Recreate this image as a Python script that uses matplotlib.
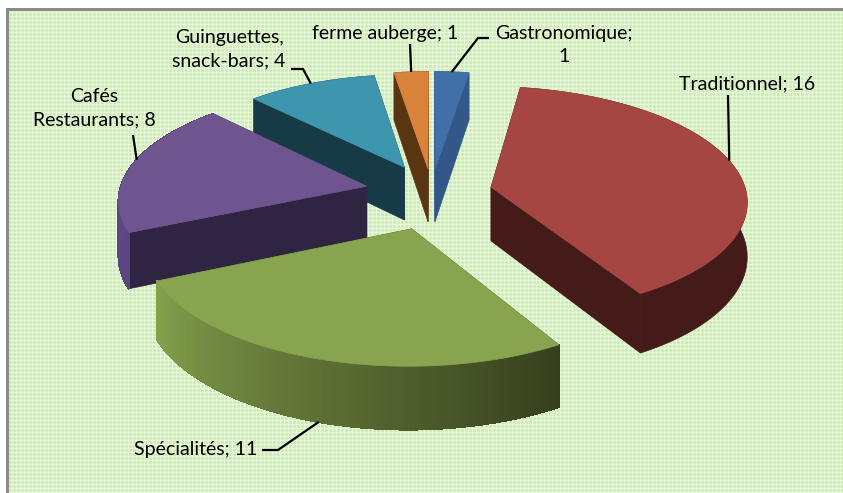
import numpy as np
import matplotlib
matplotlib.use("Agg")
import matplotlib.pyplot as plt
from matplotlib.patches import Polygon
from matplotlib.colors import to_rgb

categories = ["Gastronomique", "Traditionnel", "Spécialités", "Cafés Restaurants", "Guinguettes, snack-bars", "ferme auberge"]
values = [1, 16, 11, 8, 4, 1]

top_colors = ["#4170a8", "#a64643", "#88a44e", "#6f5590", "#3d96ae", "#d9833a"]
# side colour at the start and end of the arc, going clockwise
side_start = ["#34578a", "#451b19", "#363f1d", "#5a4680", "#163a46", "#5a3512"]
side_end = ["#34578a", "#451b19", "#84a04c", "#5f4a86", "#163a46", "#5a3512"]
radial_colors = ["#34578a", "#451b19", "#39461f", "#2f2542", "#163a46", "#5a3512"]
explode = [0.21, 0.225, 0.33, 0.27, 0.25, 0.21]
radius = [1.0, 1.0, 1.0, 0.97, 0.95, 1.0]
shift_x = [-1, 3, 6, 2, 0, 0]

# projection of the tilted disc
cx, cy = 432, 192
A, B = 255, 113
k, depth = 0.112, 54


def project(x, y, z=0.0, dx=0):
    x, y = np.asarray(x, float), np.asarray(y, float)
    w = 1 + k * y
    return np.column_stack([cx + dx + A * x / w, cy - B * y / w + depth * z / w])


fig = plt.figure(figsize=(8.43, 4.93), dpi=100)
ax = fig.add_axes([0, 0, 1, 1])
ax.set_xlim(0, 843)
ax.set_ylim(493, 0)
ax.axis("off")

# plaid background tile
tile = np.ones((8, 8, 3)) * np.array(to_rgb("#d2eeb9"))
tile[::4, :] = to_rgb("#e6f6d9")
tile[:, ::4] = to_rgb("#e6f6d9")
tile[::8, ::8] = to_rgb("#f6fcf0")
tile[2::4, 2::4] = to_rgb("#c2e5a5")
bg = np.tile(tile, (62, 106, 1))[:493, :843]
bg[:8, :] = 1
bg[:, :6] = 1
bg[8:11, 6:] = to_rgb("#8b8b8b")
bg[8:, 6:9] = to_rgb("#8b8b8b")
ax.imshow(bg, extent=(0, 843, 493, 0), interpolation="nearest", aspect="auto", zorder=0)

total = sum(values)
edges = np.concatenate([[0], np.cumsum(values)]) * 360.0 / total


def slice_geom(i):
    a0, a1 = np.radians(edges[i]), np.radians(edges[i + 1])
    m = (a0 + a1) / 2
    ox, oy = explode[i] * np.sin(m), explode[i] * np.cos(m)
    t = np.linspace(a0, a1, max(int(np.degrees(a1 - a0)), 6))
    return ox, oy, t


z = 1
for i in [0, 5, 4, 1, 3, 2]:
    ox, oy, t = slice_geom(i)
    dx = shift_x[i]
    ax_pts = ox + radius[i] * np.sin(t)
    ay_pts = oy + radius[i] * np.cos(t)
    # radial faces
    for j in [0, -1]:
        quad = np.vstack([project([ox], [oy], 0, dx), project([ax_pts[j]], [ay_pts[j]], 0, dx),
                          project([ax_pts[j]], [ay_pts[j]], 1, dx), project([ox], [oy], 1, dx)])
        ax.add_patch(Polygon(quad, closed=True, fc=radial_colors[i], ec=radial_colors[i], lw=0.5, zorder=z))
        z += 1
    # outer wall, in strips when the shade changes along the arc
    if side_start[i] == side_end[i]:
        wall = np.vstack([project(ax_pts, ay_pts, 0, dx), project(ax_pts[::-1], ay_pts[::-1], 1, dx)])
        ax.add_patch(Polygon(wall, closed=True, fc=side_start[i], ec=side_start[i], lw=0.5, zorder=z))
        z += 1
    else:
        c0, c1 = np.array(to_rgb(side_start[i])), np.array(to_rgb(side_end[i]))
        for j in range(len(t) - 1):
            f = j / max(len(t) - 2, 1)
            col = c0 + (c1 - c0) * f
            xs, ys = ax_pts[j:j + 2], ay_pts[j:j + 2]
            quad = np.vstack([project(xs, ys, 0, dx), project(xs[::-1], ys[::-1], 1, dx)])
            ax.add_patch(Polygon(quad, closed=True, fc=col, ec=col, lw=0.8, antialiased=False, zorder=z))
            z += 1
    # top
    top = np.vstack([project([ox], [oy], 0, dx), project(ax_pts, ay_pts, 0, dx)])
    ax.add_patch(Polygon(top, closed=True, fc=top_colors[i], ec=top_colors[i], lw=0.5, zorder=z))
    z += 1

# labels with leader lines
labels = ["Gastronomique;\n1", "Traditionnel; 16", "Spécialités; 11", "Cafés\nRestaurants; 8",
          "Guinguettes,\nsnack-bars; 4", "ferme auberge; 1"]
label_xy = [(564, 45), (747, 84), (196, 449), (94, 108), (229, 49), (385, 33)]
leader_paths = [[(489, 38), (478, 38)], [(728, 95)], [(262, 450), (278, 450)],
                [(133, 135)], [(291, 69), (303, 69)], [(410, 44)]]
leader_angle = [0.5, 0.478, 0.5, 0.55, 0.5, 0.5]

for i in range(6):
    ax.text(*label_xy[i], labels[i], ha="center", va="center", fontsize=14, family="Lato",
            color="black", linespacing=1.42, zorder=200)
    ox, oy, t = slice_geom(i)
    a = np.radians(edges[i] + (edges[i + 1] - edges[i]) * leader_angle[i])
    z_side = 1 if i == 2 else 0
    end = project([ox + radius[i] * np.sin(a)], [oy + radius[i] * np.cos(a)], z_side, shift_x[i])[0]
    pts = np.array(leader_paths[i] + [tuple(end)])
    ax.plot(pts[:, 0], pts[:, 1], color="black", lw=1.6, zorder=199, solid_capstyle="butt")

fig.savefig("out.png", dpi=100)
